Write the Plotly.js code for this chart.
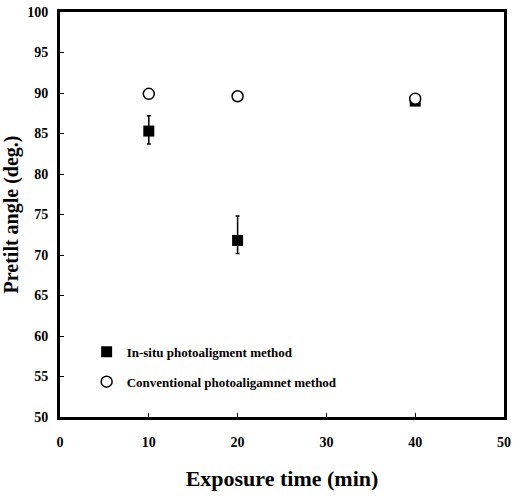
<!DOCTYPE html>
<html>
<head>
<meta charset="utf-8">
<script src="https://cdn.plot.ly/plotly-3.0.1.min.js"></script>
<style>html,body{margin:0;padding:0;background:#fff;}#chart{width:514px;height:500px;}</style>
</head>
<body>
<div id="chart"></div>
<script>
var exposureTime = [10, 20, 40];
var insituPretilt = [85.3, 71.8, 89.0];
var insituErrPlus = [1.9, 3.0, 0.2];
var insituErrMinus = [1.6, 1.6, 0.2];
var convPretilt = [89.9, 89.6, 89.3];
var insituName = "In-situ photoaligment method";
var convName = "Conventional photoaligamnet method";
var xTitle = "Exposure time (min)";
var yTitle = "Pretilt angle (deg.)";

var serif = "Liberation Serif, Times New Roman, serif";

var traces = [
  {
    x: exposureTime, y: insituPretilt, type: "scatter", mode: "markers",
    name: insituName, legendgroup: "a",
    marker: {symbol: "square", size: 11, color: "#000"},
    error_y: {type: "data", array: insituErrPlus, arrayminus: insituErrMinus, symmetric: false,
              color: "#000", thickness: 1.5, width: 2}
  },
  {
    x: exposureTime, y: convPretilt, type: "scatter", mode: "markers",
    name: convName, legendgroup: "b",
    marker: {symbol: "circle", size: 11, color: "#fff", line: {width: 1.5, color: "#000"}}
  }
];

var layout = {
  width: 514, height: 500,
  margin: {l: 60, r: 10, t: 12, b: 83},
  paper_bgcolor: "#fff", plot_bgcolor: "#fff",
  showlegend: true,
  legend: {x: 0.06, y: 0.198, xanchor: "left", yanchor: "top", bgcolor: "rgba(0,0,0,0)",
           font: {family: serif, size: 13, color: "#000", weight: "bold"},
           tracegroupgap: 10},
  xaxis: {
    range: [0, 50], dtick: 10, tick0: 0, showgrid: false, zeroline: false,
    showline: true, mirror: true, linewidth: 3, linecolor: "#000",
    ticks: "inside", ticklen: 4, tickwidth: 1, tickcolor: "#000",
    ticklabelstandoff: 10, ticklabeloverflow: "allow",
    tickfont: {family: serif, size: 14, color: "#000", weight: "bold"},
    title: {text: xTitle, standoff: 22, font: {family: serif, size: 22, color: "#000", weight: "bold"}}
  },
  yaxis: {
    range: [50, 100], dtick: 5, tick0: 50, showgrid: false, zeroline: false,
    showline: true, mirror: true, linewidth: 3, linecolor: "#000",
    ticks: "inside", ticklen: 4, tickwidth: 1, tickcolor: "#000",
    ticklabelstandoff: 6,
    tickfont: {family: serif, size: 14, color: "#000", weight: "bold"},
    title: {text: yTitle, standoff: 10, font: {family: serif, size: 20, color: "#000", weight: "bold"}}
  }
};

Plotly.newPlot("chart", traces, layout, {displayModeBar: false, staticPlot: true});
</script>
</body>
</html>
